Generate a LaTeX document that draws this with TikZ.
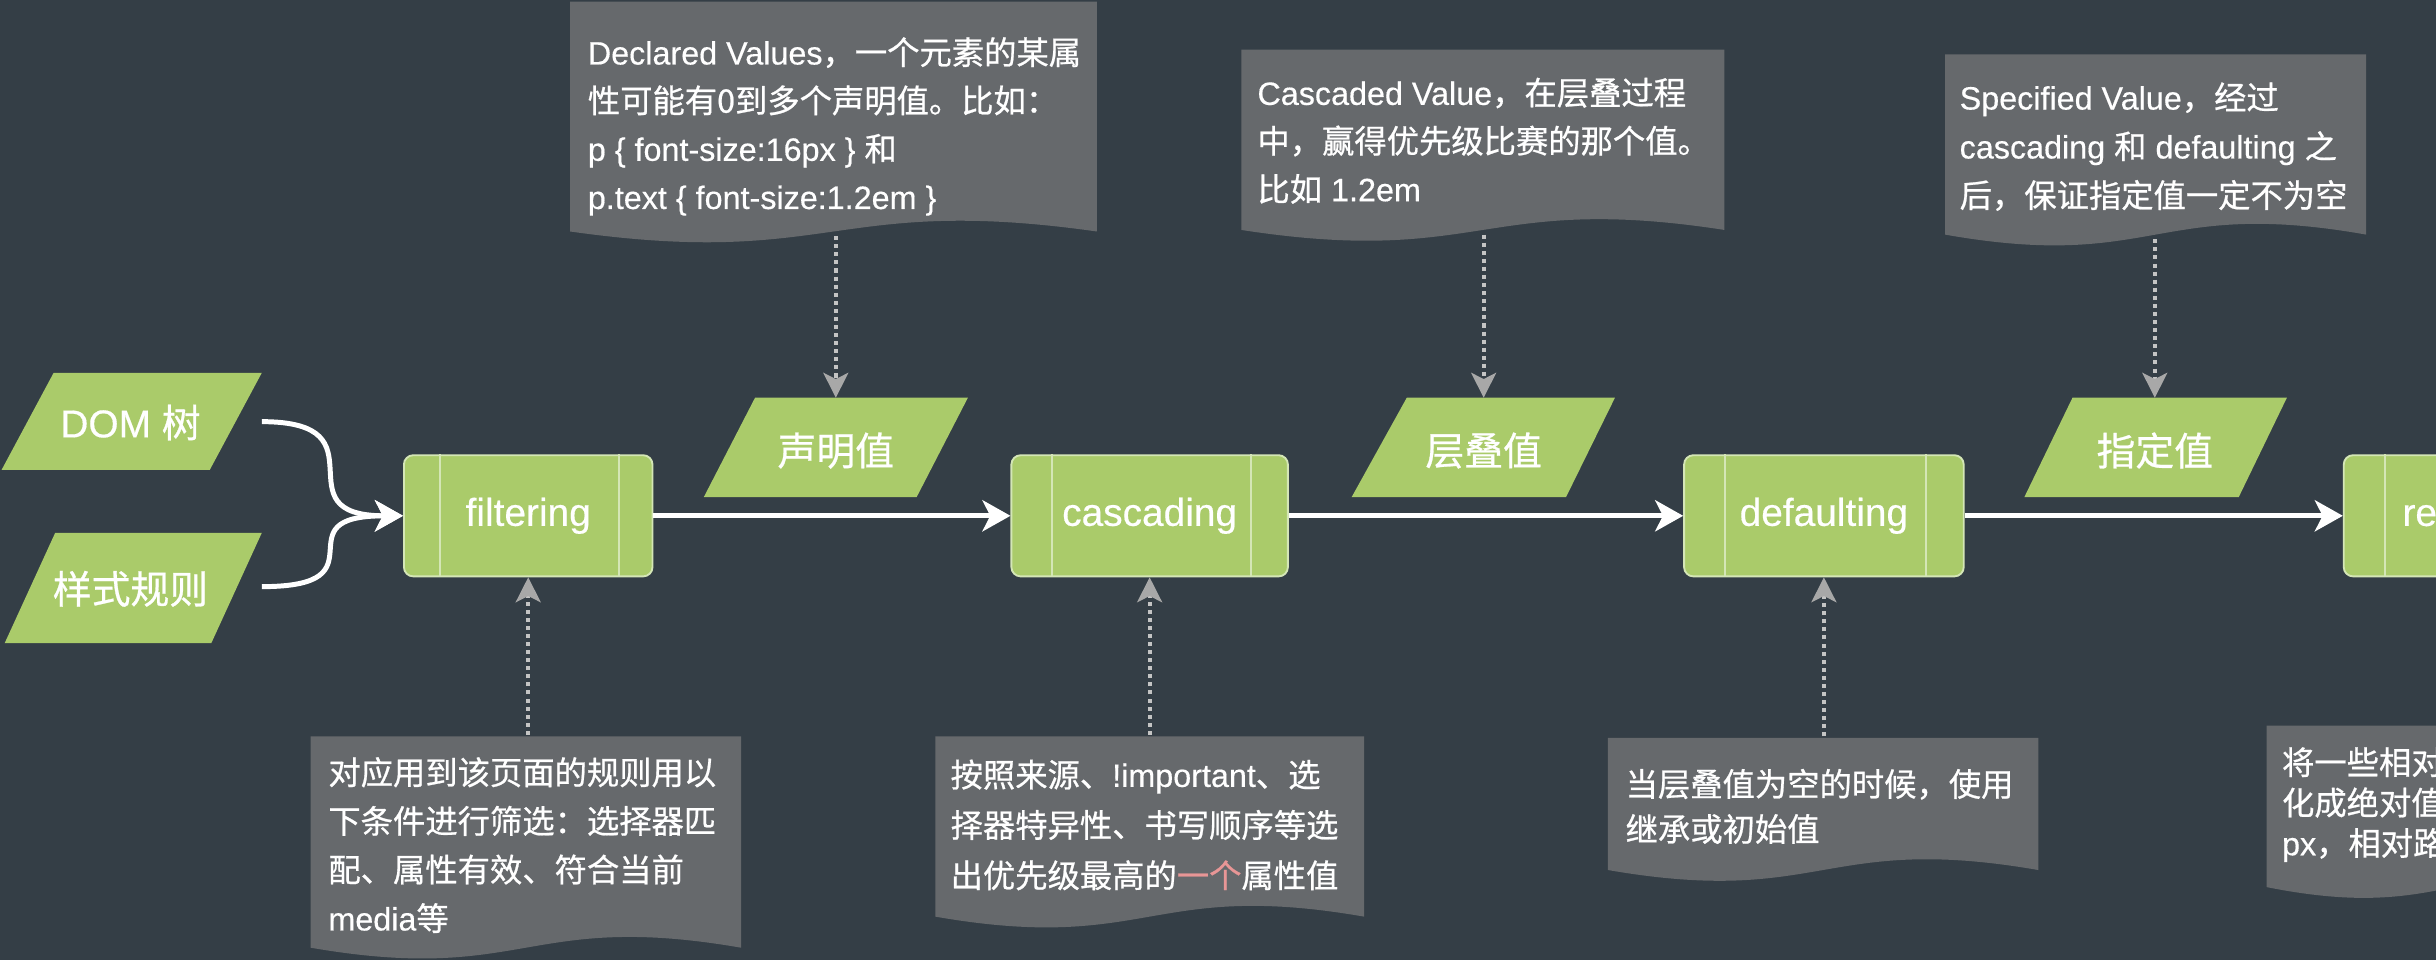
\documentclass[tikz,border=0pt]{standalone}
\usepackage{fontspec}
\setmainfont{Liberation Sans}[FakeBold=0.4]
\newfontfamily\cjk{Noto Sans CJK SC}[FakeBold=0.7]
\usetikzlibrary{arrows.meta}
\definecolor{bg}{RGB}{52,62,70}
\definecolor{grn}{RGB}{170,203,106}
\definecolor{grnline}{RGB}{212,230,182}
\definecolor{notefill}{RGB}{102,105,108}
\definecolor{dotc}{RGB}{196,196,196}
\definecolor{dottip}{RGB}{168,168,168}
\definecolor{hl}{RGB}{232,150,150}
\newcommand\zh[1]{{\cjk #1}}
\newcommand\nlines[2]{\vtop{\baselineskip=#1\relax\lineskiplimit=-20pt\relax#2}}
\newcommand\notebox[4]{\fill[notebg] (#1,#3) -- (#2,#3) -- (#2,#4) .. controls ({(#1+#2)/2},{#4-24}) and ({(#1+#2)/2},{#4+24}) .. (#1,#4) -- cycle;}
\tikzset{
  lbl/.style={text=white, font=\fontsize{12.5pt}{15pt}\selectfont, inner sep=0pt},
  procbox/.style={lbl, draw=grnline, fill=grn, line width=0.6pt, rounded corners=3pt, minimum height=39pt},
  innerln/.style={draw=grnline, line width=0.6pt},
  para/.style={fill=grn},
  notebg/.style={fill=notefill},
  notetext/.style={text=white, font=\fontsize{10.4pt}{15.5pt}\selectfont, inner sep=0pt, anchor=base west},
  flow/.style={draw=white, line width=1.6pt, -{Stealth[length=9pt,width=10pt,inset=2.5pt]}},
  dotarrow/.style={draw=dotc, line width=1.3pt, dash pattern=on 1.3pt off 1.3pt, -{Stealth[length=8pt,width=8pt,inset=2pt,color=dottip]}}
}
\begin{document}
\begin{tikzpicture}[x=0.5pt,y=-0.5pt]
\useasboundingbox (0,0) rectangle (1568,618);
\clip (0,0) rectangle (1568,618);
\fill[bg] (0,0) rectangle (1568,618);

% ---------- notes (callouts) ----------
\notebox{367}{706}{1}{149}
\notebox{799}{1110}{32}{148}
\notebox{1252}{1523}{35}{151}
\notebox{200}{477}{474}{610}
\notebox{602}{878}{474}{590}
\notebox{1035}{1312}{475}{560}
\notebox{1459}{1700}{467}{571}

\node[notetext] (tA) at (378,41.5) {\nlines{15.5pt}{%
  \hbox{Declared Values\zh{，一个元素的某属}}%
  \hbox{\zh{性可能有0到多个声明值。比如：}}%
  \hbox{p \{ font-size:16px \} \zh{和}}%
  \hbox{p.text \{ font-size:1.2em \}}}};
\node[notetext] (tB) at (809,67.5) {\nlines{15.5pt}{%
  \hbox{Cascaded Value\zh{，在层叠过程}}%
  \hbox{\zh{中，赢得优先级比赛的那个值。}}%
  \hbox{\zh{比如} 1.2em}}};
\node[notetext] (tC) at (1261,70.5) {\nlines{15.75pt}{%
  \hbox{Specified Value\zh{，经过}}%
  \hbox{cascading \zh{和} defaulting \zh{之}}%
  \hbox{\zh{后，保证指定值一定不为空}}}};
\node[notetext] (tD) at (211,505) {\nlines{15.65pt}{%
  \hbox{\zh{对应用到该页面的规则用以}}%
  \hbox{\zh{下条件进行筛选：选择器匹}}%
  \hbox{\zh{配、属性有效、符合当前}}%
  \hbox{media\zh{等}}}};
\node[notetext] (tE) at (611.5,506.5) {\nlines{16.2pt}{%
  \hbox{\zh{按照来源、}!important\zh{、选}}%
  \hbox{\zh{择器特异性、书写顺序等选}}%
  \hbox{\zh{出优先级最高的}\textcolor{hl}{\zh{一个}}\zh{属性值}}}};
\node[notetext] (tF) at (1046,512.5) {\nlines{14.5pt}{%
  \hbox{\zh{当层叠值为空的时候，使用}}%
  \hbox{\zh{继承或初始值}}}};
\node[notetext] (tG) at (1468.5,498.5) {\nlines{13pt}{%
  \hbox{\zh{将一些相对}}%
  \hbox{\zh{化成绝对值}}%
  \hbox{px\zh{，相对路}}}};

% ---------- parallelograms ----------
\fill[para] (34.5,240) -- (168.5,240) -- (135,302.5) -- (1,302.5) -- cycle;
\fill[para] (35.5,343) -- (168.5,343) -- (136,414) -- (3,414) -- cycle;
\fill[para] (486,256) -- (623,256) -- (590,320) -- (453,320) -- cycle;
\fill[para] (905.5,256) -- (1039.5,256) -- (1008,320) -- (870,320) -- cycle;
\fill[para] (1334,256) -- (1472,256) -- (1441,320) -- (1303,320) -- cycle;
\node[lbl] (dom) at (84,272) {DOM \zh{树}};
\node[lbl] (rules) at (84,379) {\zh{样式规则}};
\node[lbl] (decl) at (538,290) {\zh{声明值}};
\node[lbl] (casv) at (955,290) {\zh{层叠值}};
\node[lbl] (spec) at (1387,290) {\zh{指定值}};

% ---------- process boxes ----------
\node[procbox, minimum width=80pt] (filt) at (340,332) {filtering};
\draw[innerln] ([xshift=12pt]filt.north west) -- ([xshift=12pt]filt.south west);
\draw[innerln] ([xshift=-11pt]filt.north east) -- ([xshift=-11pt]filt.south east);
\node[procbox, minimum width=89pt] (casc) at (740,332) {cascading};
\draw[innerln] ([xshift=13.5pt]casc.north west) -- ([xshift=13.5pt]casc.south west);
\draw[innerln] ([xshift=-12.25pt]casc.north east) -- ([xshift=-12.25pt]casc.south east);
\node[procbox, minimum width=90pt] (dflt) at (1174,332) {defaulting};
\draw[innerln] ([xshift=13.5pt]dflt.north west) -- ([xshift=13.5pt]dflt.south west);
\draw[innerln] ([xshift=-12.5pt]dflt.north east) -- ([xshift=-12.5pt]dflt.south east);
\node[procbox, minimum width=100pt, anchor=west] (rbox) at (1508,332) {};
\draw[innerln] ([xshift=13.5pt]rbox.north west) -- ([xshift=13.5pt]rbox.south west);
\node[lbl, anchor=base west] (rlbl) at (1546,338.5) {re};

% ---------- connectors ----------
\coordinate (domout) at (168.5,271.4);
\coordinate (ruleout) at (168.5,377.6);
\draw[flow] (domout) .. controls (250,271.4) and (178,332) .. (filt.west);
\draw[flow] (ruleout) .. controls (250,377.6) and (178,332) .. (filt.west);
\draw[flow] (filt.east) -- (casc.west);
\draw[flow] (casc.east) -- (dflt.west);
\draw[flow] (dflt.east) -- (rbox.west);

\coordinate (nA) at (538,152);  \coordinate (pA) at (538,256);
\coordinate (nB) at (955,151);  \coordinate (pB) at (955,256);
\coordinate (nC) at (1387,154); \coordinate (pC) at (1387,256);
\coordinate (nD) at (340,473);
\coordinate (nE) at (740,473);
\coordinate (nF) at (1174,474);
\draw[dotarrow] (nA) -- (pA);
\draw[dotarrow] (nB) -- (pB);
\draw[dotarrow] (nC) -- (pC);
\draw[dotarrow] (nD) -- (filt.south);
\draw[dotarrow] (nE) -- (casc.south);
\draw[dotarrow] (nF) -- (dflt.south);
\end{tikzpicture}
\end{document}
